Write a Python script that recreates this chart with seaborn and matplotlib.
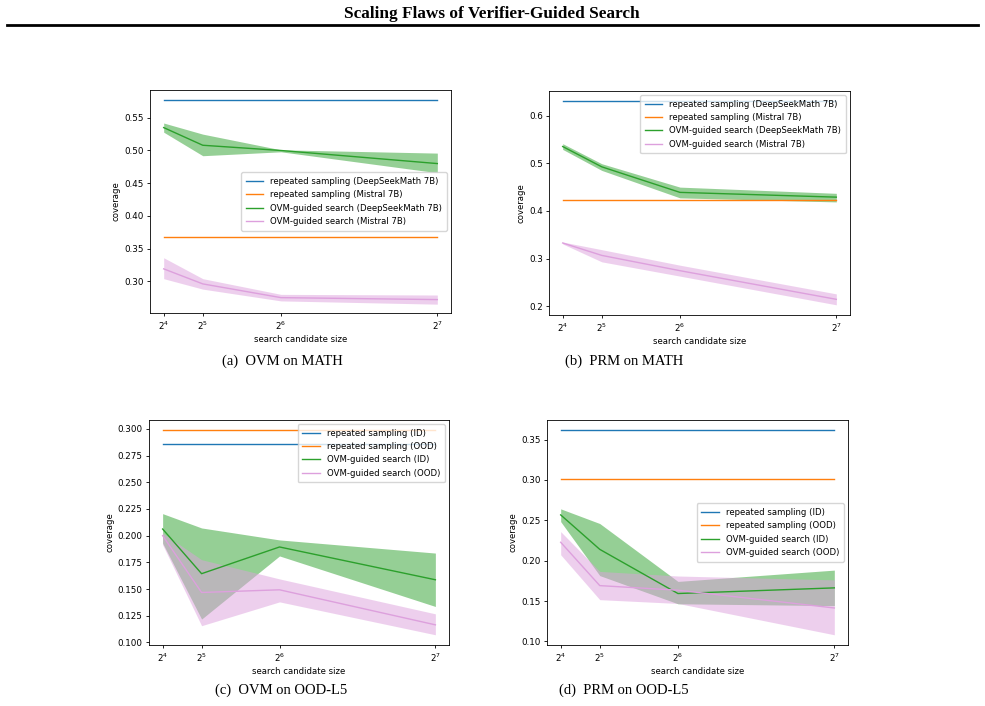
import numpy as np
import pandas as pd
import matplotlib
matplotlib.use("Agg")
import matplotlib.pyplot as plt
from matplotlib.lines import Line2D
import seaborn as sns

# ---------------- data ----------------
x_vals = [16, 32, 64, 128]
x_tick_labels = ["$2^{4}$", "$2^{5}$", "$2^{6}$", "$2^{7}$"]

# (a) OVM on MATH
a_rep_ds = 0.577
a_rep_mis = 0.367
a_ovm_ds_mean = [0.535, 0.508, 0.500, 0.480]
a_ovm_ds_lo = [0.528, 0.492, 0.498, 0.466]
a_ovm_ds_hi = [0.542, 0.525, 0.501, 0.496]
a_ovm_mis_mean = [0.319, 0.296, 0.275, 0.272]
a_ovm_mis_lo = [0.304, 0.288, 0.270, 0.265]
a_ovm_mis_hi = [0.336, 0.304, 0.280, 0.279]

# (b) PRM on MATH
b_rep_ds = 0.630
b_rep_mis = 0.422
b_ovm_ds_mean = [0.535, 0.4925, 0.439, 0.429]
b_ovm_ds_lo = [0.529, 0.485, 0.4275, 0.419]
b_ovm_ds_hi = [0.541, 0.499, 0.450, 0.437]
b_ovm_mis_mean = [0.333, 0.307, 0.275, 0.215]
b_ovm_mis_lo = [0.331, 0.2935, 0.2636, 0.2035]
b_ovm_mis_hi = [0.335, 0.319, 0.2865, 0.2264]

# (c) OVM on OOD-L5
c_rep_id = 0.286
c_rep_ood = 0.2987
c_ovm_id_mean = [0.2062, 0.1644, 0.1894, 0.1587]
c_ovm_id_lo = [0.193, 0.1219, 0.181, 0.1337]
c_ovm_id_hi = [0.2206, 0.2072, 0.196, 0.1837]
c_ovm_ood_mean = [0.200, 0.1468, 0.1493, 0.1165]
c_ovm_ood_lo = [0.1915, 0.1157, 0.138, 0.1072]
c_ovm_ood_hi = [0.2025, 0.1775, 0.1595, 0.1268]

# (d) PRM on OOD-L5
d_rep_id = 0.3616
d_rep_ood = 0.3015
d_ovm_id_mean = [0.2567, 0.2140, 0.1593, 0.1663]
d_ovm_id_lo = [0.2484, 0.1815, 0.1466, 0.1443]
d_ovm_id_hi = [0.2642, 0.2460, 0.1743, 0.1883]
d_ovm_ood_mean = [0.2228, 0.1691, 0.1634, 0.1414]
d_ovm_ood_lo = [0.2073, 0.1517, 0.1470, 0.1082]
d_ovm_ood_hi = [0.2360, 0.1867, 0.1810, 0.1762]

labels_math = ["repeated sampling (DeepSeekMath 7B)", "repeated sampling (Mistral 7B)",
               "OVM-guided search (DeepSeekMath 7B)", "OVM-guided search (Mistral 7B)"]
labels_ood = ["repeated sampling (ID)", "repeated sampling (OOD)",
              "OVM-guided search (ID)", "OVM-guided search (OOD)"]

captions = ["(a)  OVM on MATH", "(b)  PRM on MATH", "(c)  OVM on OOD-L5", "(d)  PRM on OOD-L5"]
fig_title = "Scaling Flaws of Verifier-Guided Search"

# ---------------- style ----------------
plt.rcParams.update({
    "font.family": ["DejaVu Sans"],
    "axes.linewidth": 0.6,
    "xtick.major.width": 0.6,
    "ytick.major.width": 0.6,
    "xtick.major.size": 2.3,
    "ytick.major.size": 2.3,
    "xtick.major.pad": 2.2,
    "ytick.major.pad": 2.2,
    "xtick.labelsize": 6.3,
    "ytick.labelsize": 6.3,
    "axes.labelsize": 6.1,
    "axes.labelpad": 2.5,
})

W, H = 985, 706
fig = plt.figure(figsize=(W / 100, H / 100), dpi=100)


def add_ax(l, r, t, b):
    return fig.add_axes([l / W, 1 - b / H, (r - l) / W, (b - t) / H])


axes_px = [(150, 451, 90, 313), (549, 850, 91, 315), (149, 449, 420, 645), (547, 848, 420, 645)]

panels = [
    (a_rep_ds, a_rep_mis, a_ovm_ds_mean, a_ovm_ds_lo, a_ovm_ds_hi,
     a_ovm_mis_mean, a_ovm_mis_lo, a_ovm_mis_hi, labels_math, "center right", (0.2515, 0.5925)),
    (b_rep_ds, b_rep_mis, b_ovm_ds_mean, b_ovm_ds_lo, b_ovm_ds_hi,
     b_ovm_mis_mean, b_ovm_mis_lo, b_ovm_mis_hi, labels_math, "upper right", None),
    (c_rep_id, c_rep_ood, c_ovm_id_mean, c_ovm_id_lo, c_ovm_id_hi,
     c_ovm_ood_mean, c_ovm_ood_lo, c_ovm_ood_hi, labels_ood, "upper right", None),
    (d_rep_id, d_rep_ood, d_ovm_id_mean, d_ovm_id_lo, d_ovm_id_hi,
     d_ovm_ood_mean, d_ovm_ood_lo, d_ovm_ood_hi, labels_ood, "center right", None),
]

lw = 1.0
for (l, r, t, b), p in zip(axes_px, panels):
    rep1, rep2, m1, lo1, hi1, m2, lo2, hi2, labs, loc, ylim = p
    ax = add_ax(l, r, t, b)
    sns.lineplot(x=x_vals, y=[rep1] * len(x_vals), ax=ax, color="tab:blue", lw=lw, label=labs[0])
    sns.lineplot(x=x_vals, y=[rep2] * len(x_vals), ax=ax, color="tab:orange", lw=lw, label=labs[1])
    sns.lineplot(x=x_vals, y=m1, ax=ax, color="tab:green", lw=lw, label=labs[2])
    ax.fill_between(x_vals, lo1, hi1, color="tab:green", alpha=0.5, lw=0)
    sns.lineplot(x=x_vals, y=m2, ax=ax, color="plum", lw=lw, label=labs[3])
    ax.fill_between(x_vals, lo2, hi2, color="plum", alpha=0.5, lw=0)
    ax.set_xticks(x_vals)
    ax.set_xticklabels(x_tick_labels)
    if ylim is not None:
        ax.set_ylim(*ylim)
    ax.set_xlabel("search candidate size")
    ax.set_ylabel("coverage")
    ax.legend(loc=loc, fontsize=6.1, handlelength=2.1, borderpad=0.55,
              labelspacing=0.5, handletextpad=0.8, framealpha=0.8)

cap_pos = [(282, 361), (624, 361), (281, 690), (624, 690)]
for (cx, cy), cap in zip(cap_pos, captions):
    fig.text(cx / W, 1 - cy / H, cap, ha="center", va="center",
             family=["Liberation Serif", "DejaVu Serif"], fontsize=10.5)

fig.text(492 / W, 1 - 13.5 / H, fig_title, ha="center", va="center",
         family=["Liberation Serif", "DejaVu Serif"], fontsize=12.4, fontweight="bold")
fig.add_artist(Line2D([7 / W, 978 / W], [1 - 25 / H, 1 - 25 / H], lw=2.0, color="black"))

fig.savefig("out.png", dpi=100)
